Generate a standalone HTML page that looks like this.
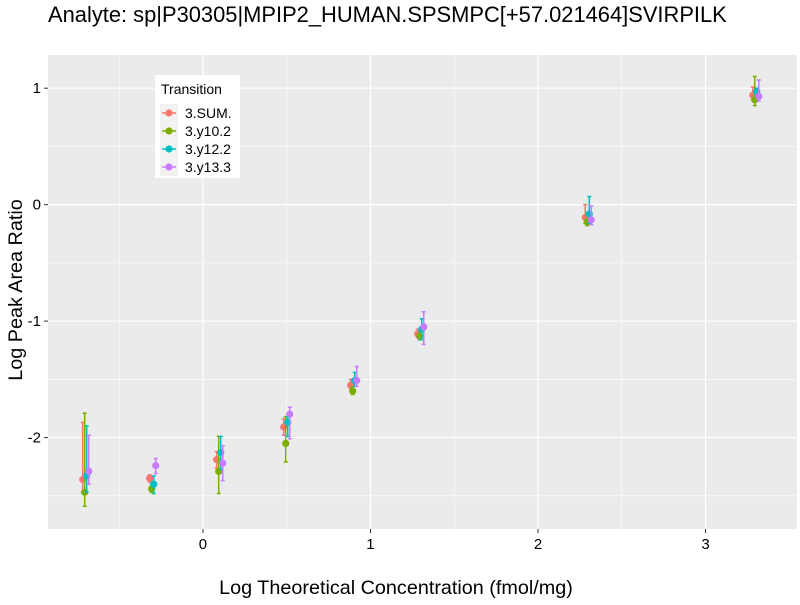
<!DOCTYPE html>
<html><head><meta charset="utf-8"><style>
body{margin:0;background:#fff;font-family:"Liberation Sans",sans-serif;}
svg text{font-family:"Liberation Sans",sans-serif;}
</style></head><body>
<svg id="chart" width="800" height="600" viewBox="0 0 800 600">
<text x="48" y="22" font-size="21.9" fill="#000">Analyte: sp|P30305|MPIP2_HUMAN.SPSMPC[+57.021464]SVIRPILK</text>
<rect x="48" y="55" width="749" height="474" fill="#ebebeb"/>
<g id="grid"></g>
<g id="marks"></g>
<g id="axes"></g>
<text x="396" y="594" font-size="19.8" text-anchor="middle" fill="#000">Log Theoretical Concentration (fmol/mg)</text>
<text transform="translate(22,290) rotate(-90)" font-size="19.8" text-anchor="middle" fill="#000">Log Peak Area Ratio</text>
<g>
<rect x="155" y="75" width="85" height="103" fill="#fff"/>
<text x="161" y="94" font-size="14" fill="#000">Transition</text>
<g id="legend-items"></g>
</g>
</svg>
<script>
const series = ["3.SUM.","3.y10.2","3.y12.2","3.y13.3"];
const colors = ["#f8766d","#7cae00","#00bfc4","#c77cff"];
const xCats = [-0.7,-0.3,0.1,0.5,0.9,1.3,2.3,3.3];
const dodge = [-0.018,-0.006,0.006,0.018];
const valSUM  = [-2.36,-2.35,-2.19,-1.91,-1.55,-1.11,-0.11,0.94];
const loSUM   = [-2.47,-2.38,-2.26,-1.98,-1.58,-1.14,-0.16,0.90];
const hiSUM   = [-1.87,-2.32,-2.12,-1.84,-1.50,-1.07,0.00,1.01];
const valY10  = [-2.47,-2.44,-2.29,-2.05,-1.60,-1.13,-0.15,0.90];
const loY10   = [-2.59,-2.47,-2.48,-2.21,-1.63,-1.16,-0.18,0.85];
const hiY10   = [-1.79,-2.40,-1.99,-1.82,-1.56,-1.09,-0.12,1.10];
const valY12  = [-2.33,-2.40,-2.13,-1.87,-1.51,-1.07,-0.08,0.97];
const loY12   = [-2.47,-2.48,-2.27,-1.99,-1.56,-1.16,-0.16,0.93];
const hiY12   = [-1.90,-2.33,-1.99,-1.82,-1.44,-0.98,0.07,1.00];
const valY13  = [-2.29,-2.24,-2.22,-1.80,-1.51,-1.05,-0.13,0.93];
const loY13   = [-2.40,-2.31,-2.37,-2.01,-1.56,-1.20,-0.17,0.89];
const hiY13   = [-1.98,-2.18,-2.07,-1.74,-1.39,-0.92,-0.01,1.07];
const xTicks = [0,1,2,3];
const yTicks = [1,0,-1,-2];
const xMinor = [-0.5,0.5,1.5,2.5];
const yMinor = [0.5,-0.5,-1.5,-2.5];
const vals=[valSUM,valY10,valY12,valY13], los=[loSUM,loY10,loY12,loY13], his=[hiSUM,hiY10,hiY12,hiY13];
const X0=48,X1=797,Y0=55,Y1=529, xmin=-0.925,xmax=3.546,ymin=-2.785,ymax=1.285;
const xs=v=>X0+(v-xmin)/(xmax-xmin)*(X1-X0);
const ys=v=>Y1-(v-ymin)/(ymax-ymin)*(Y1-Y0);
const NS="http://www.w3.org/2000/svg";
function mk(parent,tag,attrs){const e=document.createElementNS(NS,tag);for(const k in attrs)e.setAttribute(k,attrs[k]);parent.appendChild(e);return e;}
const grid=document.getElementById('grid'),marks=document.getElementById('marks'),axes=document.getElementById('axes');
xMinor.forEach(v=>{const l=mk(grid,'line',{x1:xs(v),x2:xs(v),y1:Y0,y2:Y1,stroke:'#fff','stroke-width':0.6});

});
yMinor.forEach(v=>{const l=mk(grid,'line',{x1:X0,x2:X1,y1:ys(v),y2:ys(v),stroke:'#fff','stroke-width':0.6});

});
xTicks.forEach(v=>{const l=mk(grid,'line',{x1:xs(v),x2:xs(v),y1:Y0,y2:Y1,stroke:'#fff','stroke-width':1.2});


mk(axes,'line',{x1:xs(v),x2:xs(v),y1:Y1,y2:Y1+4,stroke:'#333','stroke-width':1});
const t=mk(axes,'text',{x:xs(v),y:Y1+20,'font-size':15,'text-anchor':'middle',fill:'#000'});t.textContent=v;

});
yTicks.forEach(v=>{const l=mk(grid,'line',{x1:X0,x2:X1,y1:ys(v),y2:ys(v),stroke:'#fff','stroke-width':1.2});


mk(axes,'line',{x1:X0-4,x2:X0,y1:ys(v),y2:ys(v),stroke:'#333','stroke-width':1});
const t=mk(axes,'text',{x:X0-7,y:ys(v)+5,'font-size':15,'text-anchor':'end',fill:'#000'});t.textContent=v;

});
series.forEach((s,si)=>{
  const g=mk(marks,'g',{});
  
  
  xCats.forEach((xc,i)=>{
    const x=xs(xc+dodge[si]);
    const e=mk(g,'path',{d:`M${x},${ys(his[si][i])}V${ys(los[si][i])}M${x-2},${ys(his[si][i])}H${x+2}M${x-2},${ys(los[si][i])}H${x+2}`,stroke:colors[si],'stroke-width':1.5,fill:'none'});
    
    
    const c=mk(g,'circle',{cx:x,cy:ys(vals[si][i]),r:3.6,fill:colors[si]});
    
    
  });
});
const li=document.getElementById('legend-items');
series.forEach((s,si)=>{
  const y=113+si*18;
  mk(li,'rect',{x:160,y:y-9,width:18,height:18,fill:'#f2f2f2'});
  mk(li,'line',{x1:162,x2:176,y1:y,y2:y,stroke:colors[si],'stroke-width':1.5});
  mk(li,'circle',{cx:169,cy:y,r:3.6,fill:colors[si]});
  const t=mk(li,'text',{x:185,y:y+5,'font-size':14,fill:'#000'});t.textContent=s;
  
  
});
</script>
</body></html>
